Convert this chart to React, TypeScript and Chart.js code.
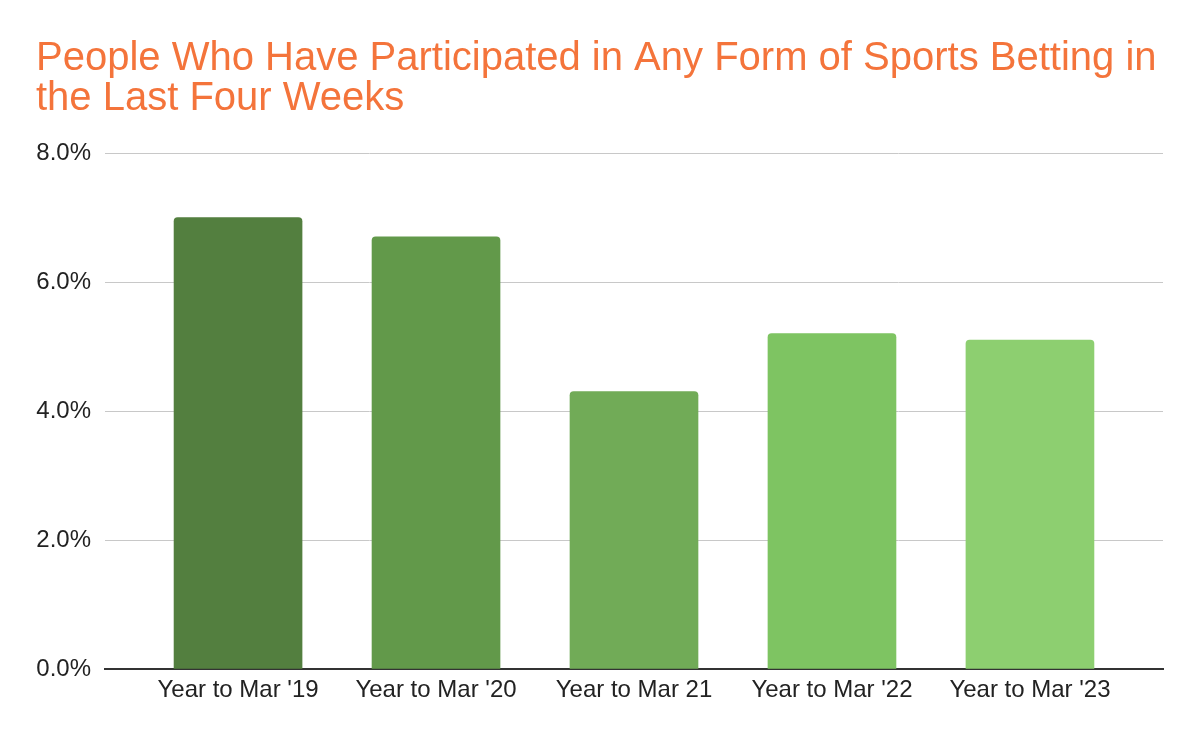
import React, { useEffect, useRef } from "react";
import { Chart, registerables } from "chart.js";

Chart.register(...registerables);

const categories: string[] = [
  "Year to Mar '19",
  "Year to Mar '20",
  "Year to Mar 21",
  "Year to Mar '22",
  "Year to Mar '23",
];
const values: number[] = [7.0, 6.7, 4.3, 5.2, 5.1];
const barColors: string[] = ["#537F3F", "#62994A", "#71AB57", "#7EC462", "#8DCF70"];
const yTicks: number[] = [0, 2, 4, 6, 8];
const titleLines: string[] = [
  "People Who Have Participated in Any Form of Sports Betting in",
  "the Last Four Weeks",
];

const FONT = "'Liberation Sans', Arial, Helvetica, sans-serif";

export default function App() {
  const ref = useRef<HTMLCanvasElement | null>(null);

  useEffect(() => {
    document.body.style.margin = "0";
    const canvas = ref.current;
    if (!canvas) return;
    const chart = new Chart(canvas, {
      type: "bar",
      data: {
        datasets: [
          {
            data: values.map((v, i) => ({ x: i, y: v })),
            backgroundColor: barColors,
            barThickness: 128,
            borderRadius: 4,
          },
        ],
      },
      options: {
        responsive: false,
        animation: false,
        layout: { padding: { left: 36, right: 37, top: 0, bottom: 0 } },
        plugins: {
          legend: { display: false },
          tooltip: { enabled: false },
          title: {
            display: true,
            text: titleLines,
            align: "start",
            color: "#F4743B",
            font: { family: FONT, size: 40, weight: "normal", lineHeight: 1.0 },
            padding: { top: 39, bottom: 34 },
          },
        },
        scales: {
          x: {
            type: "linear",
            offset: false,
            min: -0.672,
            max: 4.672,
            afterFit: (scale: any) => {
              scale.height = 73;
            },
            afterBuildTicks: (scale: any) => {
              scale.ticks = categories.map((_, i) => ({ value: i }));
            },
            grid: { display: false, drawTicks: false, offset: false },
            border: { display: true, color: "#333333", width: 2 },
            ticks: {
              autoSkip: false,
              maxRotation: 0,
              padding: 7,
              color: "#222222",
              font: { family: FONT, size: 24 },
              callback: (v: any) => {
                const i = Number(v);
                return Number.isInteger(i) && i >= 0 && i < categories.length ? categories[i] : "";
              },
            },
          },
          y: {
            min: 0,
            max: 8,
            afterFit: (scale: any) => {
              scale.width = 69;
            },
            afterBuildTicks: (scale: any) => {
              scale.ticks = yTicks.map((v) => ({ value: v }));
            },
            grid: { color: "#c8c8c8", lineWidth: 1, drawTicks: false },
            border: { display: false },
            ticks: {
              padding: 14,
              color: "#222222",
              font: { family: FONT, size: 24 },
              callback: (v: any) => Number(v).toFixed(1) + "%",
            },
          },
        },
      },
    });
    return () => chart.destroy();
  }, []);

  return (
    <div style={{ width: 1200, height: 742, background: "#ffffff" }}>
      <canvas ref={ref} width={1200} height={742} />
    </div>
  );
}
